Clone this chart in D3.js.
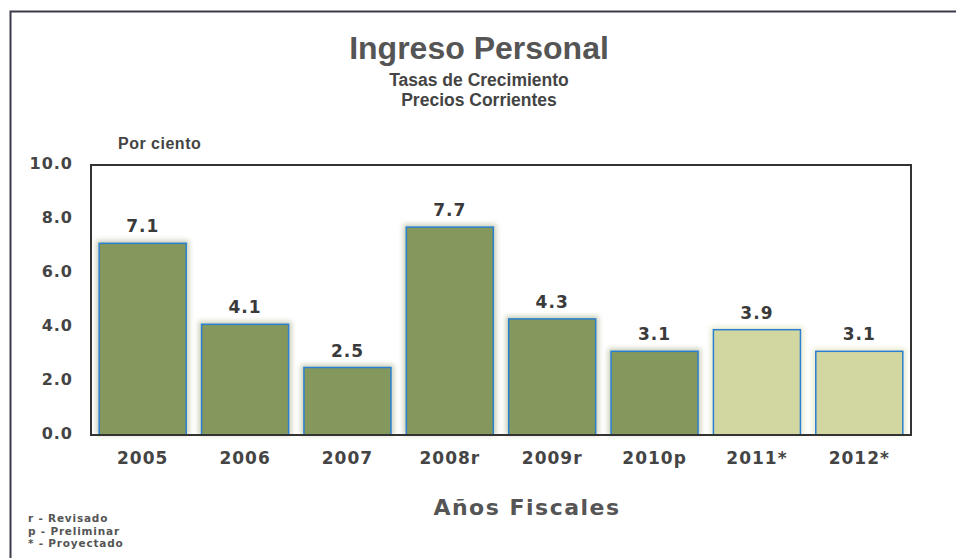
<!DOCTYPE html>
<html>
<head>
<meta charset="utf-8">
<script src="https://cdn.jsdelivr.net/npm/d3@7"></script>
<style>
  body { margin: 0; background: #fff; }
  text { font-family: "DejaVu Sans", Arial, sans-serif; font-weight: bold; }
</style>
</head>
<body>
<script>
// chart data
var years  = ['2005', '2006', '2007', '2008r', '2009r', '2010p', '2011*', '2012*'];
var values = [7.1, 4.1, 2.5, 7.7, 4.3, 3.1, 3.9, 3.1];
var projected = [false, false, false, false, false, false, true, true];
var yTicks = [0, 2, 4, 6, 8, 10];
var notes  = ['r - Revisado', 'p - Preliminar', '* - Proyectado'];

var W = 956, H = 558;
var plot = {left: 91, top: 165, right: 911, bottom: 435};

var svg = d3.select('body').append('svg')
    .attr('width', W)
    .attr('height', H);

// soft glow around the bars
var defs = svg.append('defs');
var f = defs.append('filter').attr('id', 'glow')
    .attr('x', '-10%').attr('y', '-10%').attr('width', '120%').attr('height', '120%');
f.append('feGaussianBlur').attr('stdDeviation', 2.5);

// outer page frame
svg.append('path')
    .attr('d', 'M10.5 ' + H + ' V11.5 H' + W)
    .attr('fill', 'none')
    .attr('stroke', '#3a3a4a')
    .attr('stroke-width', 2);

// titles
svg.append('text')
    .attr('x', 479).attr('y', 59)
    .attr('text-anchor', 'middle')
    .attr('font-size', 32)
    .attr('fill', '#555')
    .style('font-family', 'Liberation Sans, Arial, sans-serif')
    .text('Ingreso Personal');
svg.append('text')
    .attr('x', 479).attr('y', 86)
    .attr('text-anchor', 'middle')
    .attr('font-size', 17.5)
    .attr('fill', '#444')
    .style('font-family', 'Liberation Sans, Arial, sans-serif')
    .text('Tasas de Crecimiento');
svg.append('text')
    .attr('x', 479).attr('y', 106)
    .attr('text-anchor', 'middle')
    .attr('font-size', 17.5)
    .attr('fill', '#444')
    .style('font-family', 'Liberation Sans, Arial, sans-serif')
    .text('Precios Corrientes');

svg.append('text')
    .attr('x', 118).attr('y', 149)
    .attr('font-size', 16)
    .attr('fill', '#444')
    .style('font-family', 'Liberation Sans, Arial, sans-serif')
    .style('letter-spacing', '0.5px')
    .text('Por ciento');

// scales
var x = d3.scaleBand()
    .domain(years)
    .range([plot.left, plot.right])
    .paddingInner(0.15)
    .paddingOuter(0.08);

var y = d3.scaleLinear()
    .domain([0, 10])
    .range([plot.bottom, plot.top]);

// y axis labels
var yAxis = d3.axisLeft(y)
    .tickValues(yTicks)
    .tickFormat(d3.format('.1f'))
    .tickSize(0)
    .tickPadding(18);

var ya = svg.append('g')
    .attr('transform', 'translate(' + plot.left + ',0)')
    .call(yAxis);
ya.select('.domain').remove();
ya.selectAll('text')
    .attr('font-size', 16)
    .attr('fill', '#444')
    .attr('dy', '0.2em')
    .style('letter-spacing', '1px');

// x axis labels
var xAxis = d3.axisBottom(x).tickSize(0).tickPadding(14);
var xa = svg.append('g')
    .attr('transform', 'translate(0,' + plot.bottom + ')')
    .call(xAxis);
xa.select('.domain').remove();
xa.selectAll('text')
    .attr('font-size', 17)
    .attr('fill', '#444')
    .attr('dy', '0.9em')
    .style('letter-spacing', '1px');

// bars
var bars = svg.selectAll('g.bar')
    .data(years)
    .enter().append('g')
      .attr('class', 'bar');

bars.append('rect')
    .attr('x', function(d) { return x(d) - 3; })
    .attr('y', function(d, i) { return y(values[i]) - 3; })
    .attr('width', x.bandwidth() + 6)
    .attr('height', function(d, i) { return y(0) - y(values[i]) + 3; })
    .attr('fill', function(d, i) { return projected[i] ? '#dcdcae' : '#a8b088'; })
    .attr('opacity', 0.6)
    .attr('filter', 'url(#glow)');

bars.append('rect')
    .attr('x', function(d) { return x(d); })
    .attr('y', function(d, i) { return y(values[i]); })
    .attr('width', x.bandwidth())
    .attr('height', function(d, i) { return y(0) - y(values[i]); })
    .attr('fill', function(d, i) { return projected[i] ? '#d2d7a2' : '#84975c'; })
    .attr('stroke', '#2a7fd0')
    .attr('stroke-width', 1.5);

bars.append('text')
    .attr('x', function(d) { return x(d) + x.bandwidth() / 2; })
    .attr('y', function(d, i) { return y(values[i]) - 11; })
    .attr('text-anchor', 'middle')
    .attr('font-size', 17)
    .attr('fill', '#3a3a3a')
    .style('letter-spacing', '1px')
    .text(function(d, i) { return d3.format('.1f')(values[i]); });

// plot frame
svg.append('rect')
    .attr('x', plot.left).attr('y', plot.top)
    .attr('width', plot.right - plot.left)
    .attr('height', plot.bottom - plot.top)
    .attr('fill', 'none')
    .attr('stroke', '#333')
    .attr('stroke-width', 2);

// axis title
svg.append('text')
    .attr('x', 527).attr('y', 515)
    .attr('text-anchor', 'middle')
    .attr('font-size', 22)
    .attr('fill', '#555')
    .style('letter-spacing', '1.5px')
    .text('Años Fiscales');

// notes
svg.selectAll('text.note')
    .data(notes)
    .enter().append('text')
      .attr('class', 'note')
      .attr('x', 28)
      .attr('y', function(d, i) { return 522 + i * 12.5; })
      .attr('font-size', 10.5)
      .attr('fill', '#555')
      .style('letter-spacing', '0.8px')
      .text(function(d) { return d; });
</script>
</body>
</html>
